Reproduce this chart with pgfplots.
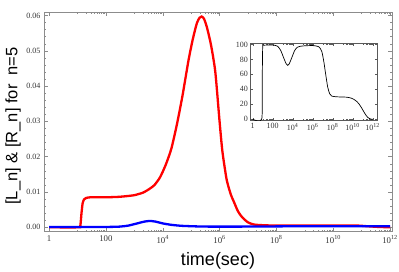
\documentclass[border=0pt]{standalone}
\usepackage{fontspec}
\setmainfont{Liberation Serif}
\newfontfamily\labelfont{Liberation Sans}
\usepackage{pgfplots}
\pgfplotsset{compat=1.18}

\pgfplotstableread{
lt v
0 0
1.05 0
1.10 0.0005
1.14 0.0040
1.18 0.0068
1.23 0.0079
1.30 0.0083
1.45 0.0085
1.70 0.0085
2.00 0.0085
2.40 0.0086
2.70 0.0088
3.00 0.0091
3.30 0.0098
3.50 0.0107
3.70 0.0119
3.90 0.0141
4.10 0.0176
4.30 0.0222
4.50 0.0292
4.70 0.0375
4.90 0.0470
5.05 0.0530
5.20 0.0578
5.30 0.0594
5.37 0.0597
5.45 0.0591
5.55 0.0568
5.70 0.0516
5.85 0.0440
6.00 0.0300
6.10 0.0215
6.25 0.0135
6.40 0.0092
6.50 0.0073
6.65 0.0045
6.80 0.0028
7.00 0.0014
7.20 0.0008
7.50 0.0006
8.00 0.0005
10.0 0.0005
10.8 0.0005
11.2 0.0003
11.6 0.0001
12.0 0.0000
}\redtable

\pgfplotstableread{
lt v
0 0.0001
2.0 0.0001
2.5 0.0002
2.8 0.0005
3.1 0.0011
3.35 0.0016
3.55 0.0018
3.75 0.0016
4.0 0.0011
4.3 0.0007
4.7 0.0004
5.5 0.0002
7.0 0.0002
9.0 0.0003
12.0 0.0003
}\bluetable

\pgfplotstableread{
lt p
0 0
0.9 0
0.95 50
1.0 97
1.1 99
2.2 99
2.5 97.5
2.8 92
3.1 82
3.35 74
3.5 72
3.65 74
3.9 82
4.2 92
4.5 96.5
5.0 98
6.0 98.5
6.6 97
6.9 91
7.1 78
7.3 60
7.5 43
7.7 34
7.9 31
8.4 30
9.4 29.5
9.9 28
10.3 25
10.6 21
10.9 15
11.2 8
11.5 2.5
11.8 0.3
12 0
}\insettable

\definecolor{framegray}{gray}{0.55}
\definecolor{labgray}{gray}{0.2}

\pgfplotsset{
  mathstyle/.style={
    scale only axis,
    axis line style={framegray, line width=0.5pt},
    tick align=inside,
    tick style={framegray, line width=0.4pt},
    major tick length=4pt,
    minor tick length=2pt,
    xtick={0,2,4,6,8,10,12},
    xticklabels={1,100,10\textsuperscript{4},10\textsuperscript{6},10\textsuperscript{8},10\textsuperscript{10},10\textsuperscript{12}},
    minor xtick={1,1.301,1.477,1.602,1.699,1.778,1.845,1.903,1.954,
                 3,3.301,3.477,3.602,3.699,3.778,3.845,3.903,3.954,
                 5,5.301,5.477,5.602,5.699,5.778,5.845,5.903,5.954,
                 7,7.301,7.477,7.602,7.699,7.778,7.845,7.903,7.954,
                 9,9.301,9.477,9.602,9.699,9.778,9.845,9.903,9.954,
                 11,11.301,11.477,11.602,11.699,11.778,11.845,11.903,11.954},
    /pgf/number format/assume math mode=true,
    ticklabel style={text=labgray},
  }
}

\begin{document}
\begin{tikzpicture}
\useasboundingbox (0,0) rectangle (399pt,271pt);
\begin{axis}[
  mathstyle,
  at={(44pt,39.3pt)}, anchor=south west,
  width=348pt, height=219.4pt,
  xmin=-0.18, xmax=12.07,
  ymin=-0.00125, ymax=0.0609,
  ytick={0,0.01,0.02,0.03,0.04,0.05,0.06},
  minor y tick num=4,
  scaled y ticks=false,
  yticklabel style={font=\fontsize{8}{9}\selectfont, /pgf/number format/fixed, /pgf/number format/fixed zerofill, /pgf/number format/precision=2},
  xticklabel style={font=\fontsize{8.8}{10}\selectfont, yshift=-0.5pt},
  xlabel={time(sec)},
  xlabel style={font=\labelfont\fontsize{18}{20}\selectfont, at={(axis description cs:0.5,0)}, anchor=north, inner sep=0pt, yshift=-21pt},
  ylabel={[L\_n] \& [R\_n] for \ n=5},
  ylabel style={font=\labelfont\fontsize{16.5}{18}\selectfont, at={(axis description cs:0,0.482)}, anchor=south, inner sep=0pt, yshift=23pt},
]
\addplot[red, line width=2.3pt, smooth, tension=0.4] table[x=lt, y=v] {\redtable};
\addplot[blue, line width=2.3pt, smooth, tension=0.4] table[x=lt, y=v] {\bluetable};
\end{axis}

\begin{axis}[
  mathstyle,
  at={(250pt,151pt)}, anchor=south west,
  width=127pt, height=76.3pt,
  axis background/.style={fill=white},
  axis line style={gray!70!black, line width=0.5pt},
  tick style={gray!70!black, line width=0.4pt},
  major tick length=2.5pt,
  minor tick length=1.2pt,
  xmin=-0.27, xmax=12.43,
  ymin=-1, ymax=101,
  ytick={0,20,40,60,80,100},
  ticklabel style={font=\fontsize{8}{9}\selectfont},
  yticklabel style={xshift=1.5pt},
]
\addplot[black, line width=0.7pt, smooth, tension=0.4] table[x=lt, y=p] {\insettable};
\end{axis}
\end{tikzpicture}
\end{document}
